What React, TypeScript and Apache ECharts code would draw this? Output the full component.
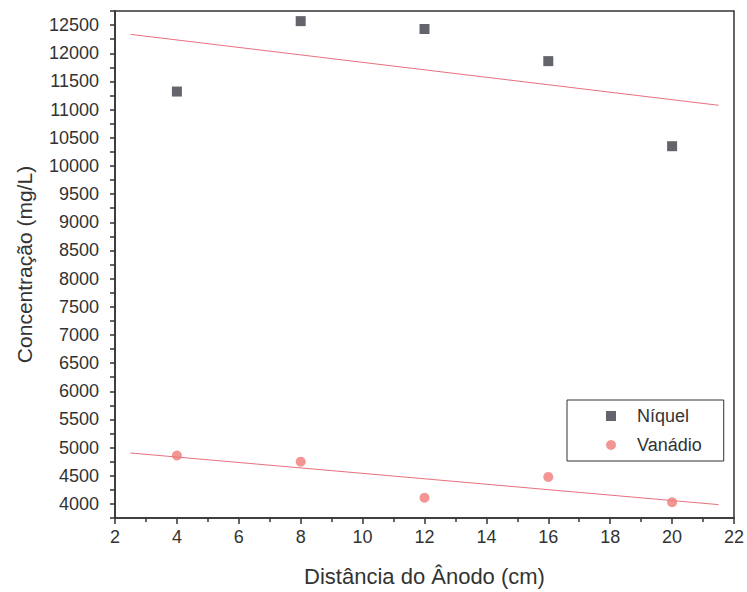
import React, { useEffect, useRef } from "react";
import * as echarts from "echarts";

const distances = [4, 8, 12, 16, 20];
const niquel = [11320, 12570, 12430, 11860, 10350];
const vanadio = [4860, 4750, 4110, 4480, 4030];
const fitRange = [2.5, 21.5];
const seriesNames = ["Níquel", "Vanádio"];
const xTitle = "Distância do Ânodo (cm)";
const yTitle = "Concentração (mg/L)";

function linearFit(xs: number[], ys: number[]) {
  const n = xs.length;
  const mx = xs.reduce((a, b) => a + b, 0) / n;
  const my = ys.reduce((a, b) => a + b, 0) / n;
  let sxy = 0;
  let sxx = 0;
  for (let i = 0; i < n; i++) {
    sxy += (xs[i] - mx) * (ys[i] - my);
    sxx += (xs[i] - mx) * (xs[i] - mx);
  }
  const slope = sxy / sxx;
  const intercept = my - slope * mx;
  return fitRange.map((x) => [x, intercept + slope * x]);
}

const FONT = "'Liberation Sans', Arial, sans-serif";
const TXT = "#333";

export default function App() {
  const ref = useRef<HTMLDivElement>(null);
  useEffect(() => {
    if (!ref.current) return;
    const chart = echarts.init(ref.current, undefined, { renderer: "svg" });
    chart.setOption({
      animation: false,
      backgroundColor: "#fff",
      textStyle: { fontFamily: FONT },
      grid: {
        left: 115,
        right: 12,
        top: 11,
        bottom: 74,
        show: true,
        borderColor: "#333",
        borderWidth: 1.5,
      },
      legend: {
        data: seriesNames,
        orient: "vertical",
        left: 567,
        top: 400,
        padding: [6, 22, 6, 39],
        itemGap: 9,
        itemWidth: 10,
        itemHeight: 10,
        borderColor: "#333",
        borderWidth: 1,
        backgroundColor: "#fff",
        textStyle: {
          fontFamily: FONT,
          fontSize: 18,
          color: TXT,
          lineHeight: 20,
          padding: [0, 0, 0, 16],
        },
      },
      xAxis: {
        type: "value",
        min: 2,
        max: 22,
        interval: 2,
        name: xTitle,
        nameLocation: "middle",
        nameGap: 47,
        nameTextStyle: { fontFamily: FONT, fontSize: 22, color: TXT },
        axisLine: { lineStyle: { color: "#333", width: 1.5 } },
        axisTick: { length: 6, lineStyle: { color: "#333", width: 1.5 } },
        minorTick: { show: true, splitNumber: 2, length: 4, lineStyle: { color: "#333", width: 1.5 } },
        axisLabel: { fontFamily: FONT, fontSize: 18, color: TXT, margin: 10 },
        splitLine: { show: false },
      },
      yAxis: {
        type: "value",
        min: 3750,
        max: 12750,
        interval: 250,
        name: yTitle,
        nameLocation: "middle",
        nameGap: 80,
        nameTextStyle: { fontFamily: FONT, fontSize: 21, color: TXT },
        axisLine: { show: true, lineStyle: { color: "#333", width: 1.5 } },
        axisTick: { length: 5, lineStyle: { color: "#333", width: 1.5 } },
        axisLabel: {
          fontFamily: FONT,
          fontSize: 18,
          color: TXT,
          margin: 16,
          formatter: (v: number) => (v % 500 === 0 ? String(v) : ""),
        },
        splitLine: { show: false },
      },
      series: [
        {
          name: seriesNames[0],
          type: "scatter",
          symbol: "rect",
          symbolSize: 10,
          itemStyle: { color: "#3d3d48" },
          data: distances.map((x, i) => [x, niquel[i]]),
          z: 3,
        },
        {
          name: seriesNames[1],
          type: "scatter",
          symbol: "circle",
          symbolSize: 10,
          itemStyle: { color: "#f07a78" },
          data: distances.map((x, i) => [x, vanadio[i]]),
          z: 3,
        },
        {
          name: "fitN",
          type: "line",
          showSymbol: false,
          symbol: "none",
          lineStyle: { color: "#e8707e", width: 1 },
          data: linearFit(distances, niquel),
          z: 2,
        },
        {
          name: "fitV",
          type: "line",
          showSymbol: false,
          symbol: "none",
          lineStyle: { color: "#e8707e", width: 1 },
          data: linearFit(distances, vanadio),
          z: 2,
        },
      ],
    });
    return () => chart.dispose();
  }, []);
  return <div ref={ref} style={{ width: 747, height: 592, position: "absolute", left: 0, top: 0 }} />;
}
